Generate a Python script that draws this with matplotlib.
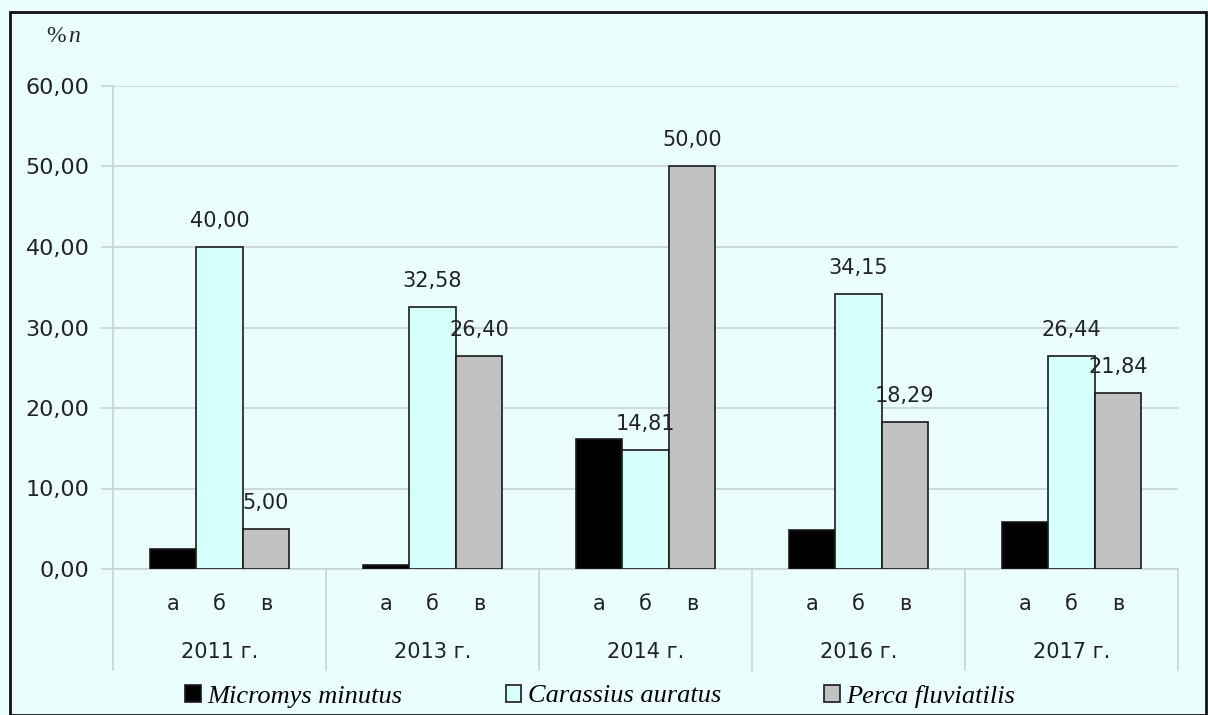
import matplotlib
matplotlib.use("Agg")
import matplotlib.pyplot as plt
import matplotlib.transforms as mtransforms
from matplotlib.patches import Rectangle
import numpy as np

years = ["2011 г.", "2013 г.", "2014 г.", "2016 г.", "2017 г."]
sub_labels = ["а", "б", "в"]
series_names = ["Micromys minutus", "Carassius auratus", "Perca fluviatilis"]
micromys = [2.5, 0.5, 16.1, 4.9, 5.8]
carassius = [40.00, 32.58, 14.81, 34.15, 26.44]
perca = [5.00, 26.40, 50.00, 18.29, 21.84]
y_ticks = [0, 10, 20, 30, 40, 50, 60]

bg = "#EBFEFE"
colors = ["#000000", "#D4FFFA", "#C2C2C2"]
grid_c = "#C9D2D2"

fig = plt.figure(figsize=(12.08, 7.15), dpi=100, facecolor=bg)
ax = fig.add_axes([113/1208, 1-569/715, (1178-113)/1208, (569-86)/715])
ax.set_facecolor(bg)

x = np.arange(len(years))
w = 0.218
series = [micromys, carassius, perca]
for i, (vals, c) in enumerate(zip(series, colors)):
    ax.bar(x + (i-1)*w, vals, width=w, color=c, edgecolor="#1a1a1a",
           linewidth=1.2, zorder=3, label=series_names[i])

# data labels for б and в series
for i in (1, 2):
    for xi, v in zip(x, series[i]):
        ax.text(xi + (i-1)*w, v + 2.0, f"{v:.2f}".replace(".", ","),
                ha="center", va="bottom", fontsize=15, color="#222222", zorder=4)

ax.set_xlim(-0.5, len(years)-0.5)
ax.set_ylim(0, 60)
ax.set_yticks(y_ticks)
ax.set_yticklabels([f"{t:.2f}".replace(".", ",") for t in y_ticks], fontsize=16, color="#222222")
ax.yaxis.grid(True, color=grid_c, linewidth=1.2, zorder=0)
ax.tick_params(axis="y", length=9, color=grid_c, width=1.2, pad=8)

sub_pos = np.concatenate([x + (i-1)*w for i in range(3)])
sub_txt = [sub_labels[i] for i in range(3) for _ in x]
ax.set_xticks(sub_pos)
ax.set_xticklabels(sub_txt, fontsize=15, color="#222222")
ax.tick_params(axis="x", length=0, pad=18)

for s in ["top", "right"]:
    ax.spines[s].set_visible(False)
for s in ["left", "bottom"]:
    ax.spines[s].set_color(grid_c)
    ax.spines[s].set_linewidth(1.2)

trans = mtransforms.blended_transform_factory(ax.transData, ax.transAxes)
ybot = (569-670)/(569-86)
for b in np.arange(-0.5, len(years), 1.0):
    ax.plot([b, b], [0, ybot], transform=trans, color=grid_c, linewidth=1.2, clip_on=False)
yyear = (569-652)/(569-86)
for xi, yl in zip(x, years):
    ax.text(xi, yyear, yl, transform=trans, ha="center", va="center",
            fontsize=15, color="#222222")

# axis unit label
fig.text(46/1208, 1-37/715, "%", fontsize=17, family="Liberation Serif", color="#222222", va="center")
fig.text(68/1208, 1-37/715, "n", fontsize=17, family="Liberation Serif", style="italic",
         color="#222222", va="center")

leg = fig.legend(loc="center", bbox_to_anchor=(0.497, 1-696/715), ncol=3, frameon=False,
                 prop={"family": "Liberation Serif", "style": "italic", "size": 19},
                 handlelength=0.6, handleheight=0.6, handletextpad=0.25, columnspacing=3.9)

fig.patches.append(Rectangle((10/1208, 0), 1196/1208, 1-12/715, transform=fig.transFigure,
                             fill=False, edgecolor="#111111", linewidth=2))

fig.savefig("out.png", dpi=100, facecolor=bg)
